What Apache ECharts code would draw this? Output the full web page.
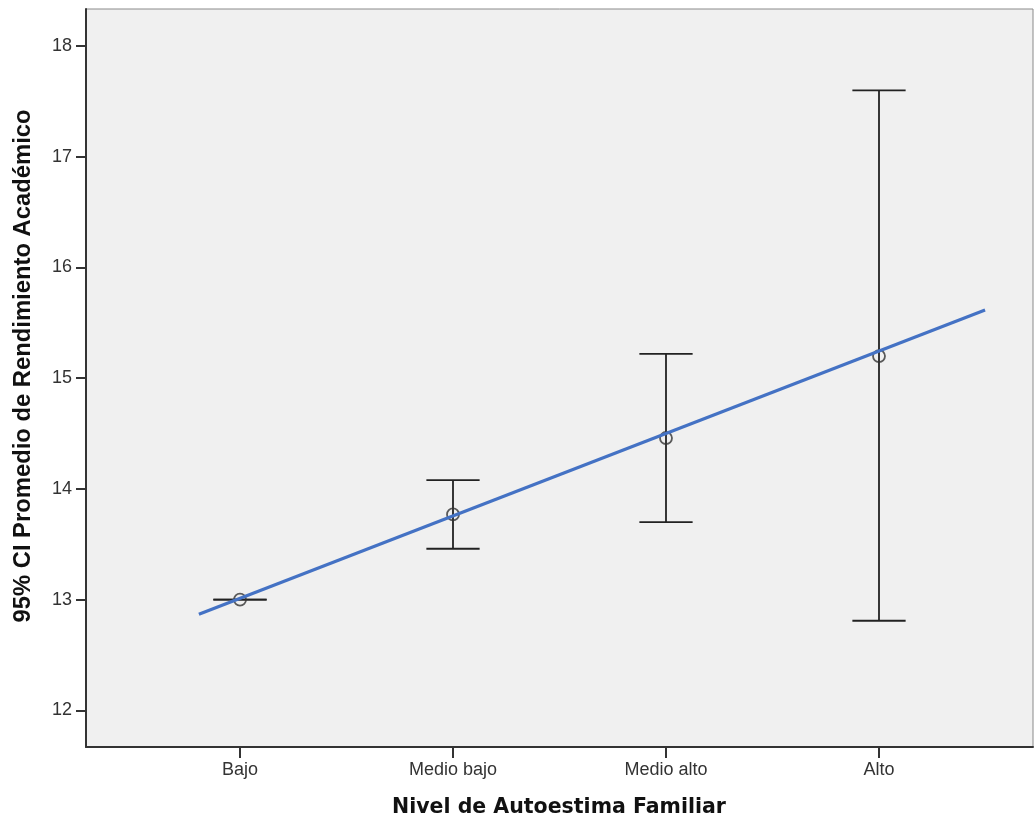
<!DOCTYPE html>
<html><head><meta charset="utf-8">
<script src="https://cdn.jsdelivr.net/npm/echarts@6/dist/echarts.min.js"></script>
<style>html,body{margin:0;padding:0;background:#fff}#c{width:1034px;height:825px}</style>
</head><body><div id="c"></div>
<script>
const categories = ['Bajo', 'Medio bajo', 'Medio alto', 'Alto'];
const catPos = [1, 2, 3, 4];
const means = [13.00, 13.77, 14.46, 15.20];
const lower = [13.00, 13.46, 13.70, 12.81];
const upper = [13.00, 14.08, 15.22, 17.60];
const yTicks = [12, 13, 14, 15, 16, 17, 18];
const fitX = [0.807, 4.498];
const fitY = [12.868, 15.617];
const xTitle = 'Nivel de Autoestima Familiar';
const yTitle = '95% CI Promedio de Rendimiento Académico';

const chart = echarts.init(document.getElementById('c'), null, {renderer: 'canvas'});
const capHalf = 0.125;
chart.setOption({
  animation: false,
  grid: {left: 86, right: 1, top: 9, bottom: 78, show: true, backgroundColor: '#f0f0f0', borderColor: '#8a8a8a', borderWidth: 1},
  graphic: [
    {type: 'text', x: 559, y: 808, style: {text: xTitle, fontFamily: 'DejaVu Sans', fontWeight: 'bold', fontSize: 20.5, fill: '#111', align: 'center', verticalAlign: 'middle'}},
    {type: 'text', x: 23, y: 366, rotation: Math.PI / 2, style: {text: yTitle, fontFamily: 'Liberation Sans', fontWeight: 'bold', fontSize: 23.8, fill: '#111', align: 'center', verticalAlign: 'middle'}}
  ],
  xAxis: {
    type: 'value', min: 0.277, max: 4.723,
    splitLine: {show: false},
    axisLine: {show: true, lineStyle: {color: '#333', width: 2}},
    axisTick: {show: true, customValues: catPos, length: 11, lineStyle: {color: '#333', width: 2}},
    axisLabel: {customValues: catPos, formatter: v => categories[Math.round(v) - 1] || '', margin: 14,
      fontFamily: 'Liberation Sans', fontSize: 18, color: '#333'}
  },
  yAxis: {
    type: 'value', min: 11.67, max: 18.334,
    splitLine: {show: false},
    axisLine: {show: true, lineStyle: {color: '#333', width: 2}},
    axisTick: {show: true, customValues: yTicks, length: 10, lineStyle: {color: '#333', width: 2}},
    axisLabel: {customValues: yTicks, margin: 14, fontFamily: 'Liberation Sans', fontSize: 18, color: '#333'}
  },
  series: [
    {
      type: 'custom',
      data: catPos.map((x, i) => [x, lower[i], upper[i]]),
      renderItem: function (params, api) {
        const x = api.value(0);
        const lo = api.coord([x, api.value(1)]);
        const hi = api.coord([x, api.value(2)]);
        const l = api.coord([x - capHalf, api.value(1)])[0];
        const r = api.coord([x + capHalf, api.value(1)])[0];
        const st = {stroke: '#222', lineWidth: 1.8};
        return {type: 'group', children: [
          {type: 'line', shape: {x1: lo[0], y1: lo[1], x2: hi[0], y2: hi[1]}, style: st},
          {type: 'line', shape: {x1: l, y1: lo[1], x2: r, y2: lo[1]}, style: st},
          {type: 'line', shape: {x1: l, y1: hi[1], x2: r, y2: hi[1]}, style: st}
        ]};
      },
      z: 2
    },
    {
      type: 'scatter',
      data: catPos.map((x, i) => [x, means[i]]),
      symbol: 'circle', symbolSize: 12,
      itemStyle: {color: 'rgba(0,0,0,0)', borderColor: '#333', borderWidth: 1.8},
      z: 3
    },
    {
      type: 'line',
      data: fitX.map((x, i) => [x, fitY[i]]),
      symbol: 'none',
      lineStyle: {color: '#4472c4', width: 3.2},
      z: 4
    }
  ]
});
</script></body></html>
